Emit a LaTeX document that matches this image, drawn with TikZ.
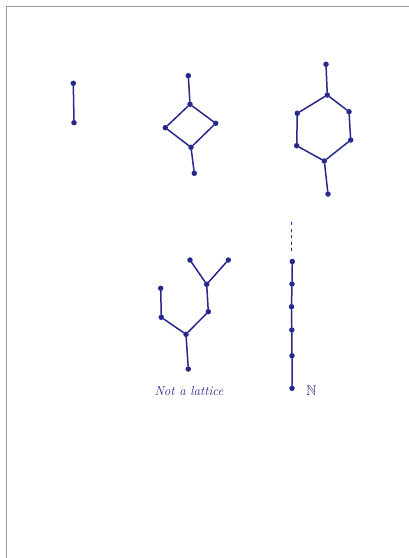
\documentclass[tikz,border=0pt]{standalone}
\usepackage{amssymb}
\begin{document}
\begin{tikzpicture}[x=1pt,y=-1pt,
  pen/.style={draw=ink,line width=1.5pt,line cap=round},
  dot/.style={circle,fill=ink,inner sep=0pt,minimum size=5.5pt},
  tick/.style={draw=ink,line width=1pt,line cap=round},
  frame/.style={draw=gray!80,line width=1pt}]
\definecolor{ink}{RGB}{40,40,140}
\useasboundingbox (0,0) rectangle (409,558);
\draw[frame] (6.5,558) -- (6.5,6.5) -- (409,6.5);
% chain of two
\node[dot] (a1) at (73.3,83.3) {};
\node[dot] (a2) at (74,122.7) {};
\draw[pen] (a1) -- (a2);
% diamond
\node[dot] (b1) at (188.3,75.7) {};
\node[dot] (b2) at (190,104.3) {};
\node[dot] (b3) at (165.3,127.7) {};
\node[dot] (b4) at (215.7,123.3) {};
\node[dot] (b5) at (191,147.3) {};
\node[dot] (b6) at (194.3,173.3) {};
\draw[pen] (b1) -- (b2) -- (b3) -- (b5) -- (b4) -- (b2);
\draw[pen] (b5) -- (b6);
% hexagon
\node[dot] (c1) at (326,64.3) {};
\node[dot] (c2) at (327.3,95) {};
\node[dot] (c3) at (349,111.7) {};
\node[dot] (c4) at (350.7,140) {};
\node[dot] (c5) at (297.3,113.3) {};
\node[dot] (c6) at (296.7,145.7) {};
\node[dot] (c7) at (324.3,161) {};
\node[dot] (c8) at (328,194) {};
\draw[pen] (c1) -- (c2) -- (c3) -- (c4) -- (c7) -- (c6) -- (c5) -- (c2);
\draw[pen] (c7) -- (c8);
% not a lattice
\node[dot] (d1) at (190,260) {};
\node[dot] (d2) at (228.3,260) {};
\node[dot] (d3) at (206.7,284.3) {};
\node[dot] (d4) at (208.3,311.7) {};
\node[dot] (d5) at (160.7,288.3) {};
\node[dot] (d6) at (161.3,317.3) {};
\node[dot] (d7) at (186,334.3) {};
\node[dot] (d8) at (188.3,369) {};
\draw[pen] (d1) -- (d3) -- (d2);
\draw[pen] (d3) -- (d4) -- (d7) -- (d6) -- (d5);
\draw[pen] (d7) -- (d8);
\node[text=ink,font=\fontsize{13}{15}\selectfont\itshape] (lab) at (189,391) {Not a lattice};
% natural numbers
\node[dot] (n1) at (292.3,261.5) {};
\node[dot] (n2) at (292,284) {};
\node[dot] (n3) at (291.5,306.7) {};
\node[dot] (n4) at (291.8,330) {};
\node[dot] (n5) at (292,355.7) {};
\node[dot] (n6) at (292,388.3) {};
\draw[pen] (n1) -- (n2) -- (n3) -- (n4) -- (n5) -- (n6);
\foreach \yy in {223.3,230.7,236.7,243.3,249.3}
  \draw[tick] (291.3,\yy-1.2) -- (291.3,\yy+1.2);
\node[text=ink,font=\fontsize{14}{16}\selectfont] (nn) at (311.5,391) {$\mathbb{N}$};
\end{tikzpicture}
\end{document}
